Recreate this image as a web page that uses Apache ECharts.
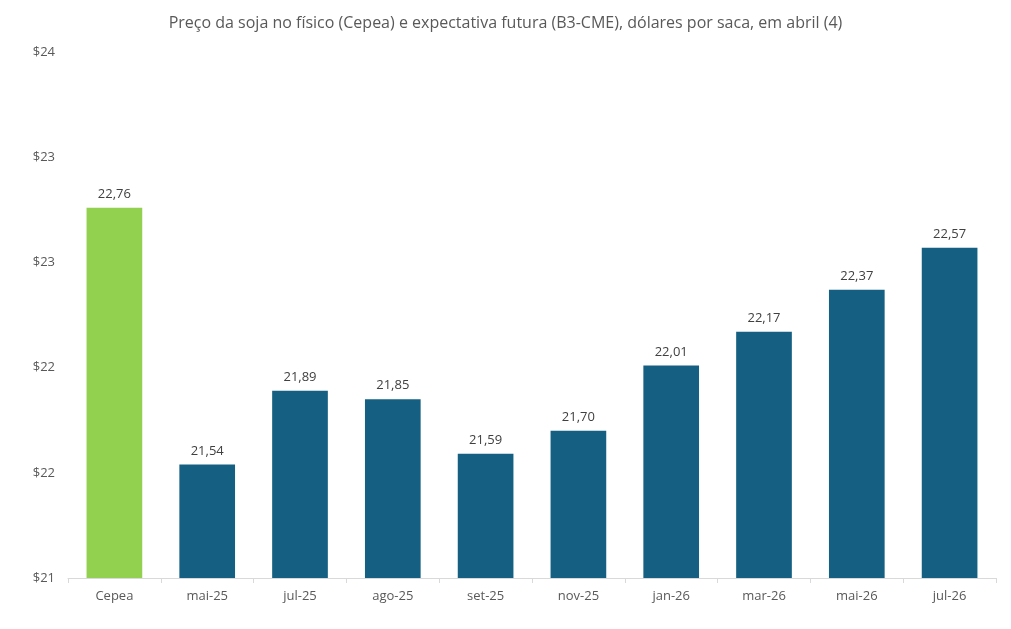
<!DOCTYPE html>
<html><head><meta charset="utf-8">
<script src="https://cdn.jsdelivr.net/npm/echarts@6/dist/echarts.min.js"></script>
<style>html,body{margin:0;padding:0;background:#fff}#c{width:1011px;height:629px}</style>
</head><body><div id="c"></div>
<script>
const categories = ['Cepea','mai-25','jul-25','ago-25','set-25','nov-25','jan-26','mar-26','mai-26','jul-26'];
const prices = [22.76, 21.54, 21.89, 21.85, 21.59, 21.70, 22.01, 22.17, 22.37, 22.57];
const barColors = ['#92D050','#156082','#156082','#156082','#156082','#156082','#156082','#156082','#156082','#156082'];
const titleText = 'Preço da soja no físico (Cepea) e expectativa futura (B3-CME), dólares por saca, em abril (4)';
const yMin = 21, yMax = 23.5, yStep = 0.5;

const chart = echarts.init(document.getElementById('c'), null, {renderer:'canvas'});
chart.setOption({
  animation:false,
  backgroundColor:'#fff',
  title:{text:titleText,left:'center',top:10,textStyle:{fontFamily:'Open Sans',fontWeight:'normal',fontSize:16,color:'#595959'}},
  grid:{left:68,right:15,top:52,bottom:51,containLabel:false},
  xAxis:{type:'category',data:categories,
    axisLine:{lineStyle:{color:'#d9d9d9',width:1}},
    axisTick:{show:true,alignWithLabel:false,length:5,lineStyle:{color:'#d9d9d9'}},
    axisLabel:{color:'#595959',fontSize:13,fontFamily:'Open Sans',margin:12}},
  yAxis:{type:'value',min:yMin,max:yMax,interval:yStep,
    splitLine:{show:false},axisLine:{show:false},axisTick:{show:false},
    axisLabel:{color:'#595959',fontSize:13,fontFamily:'Open Sans',margin:13,formatter:v=>'$'+Math.round(v)}},
  series:[{type:'bar',barCategoryGap:'40%',
    data:prices.map((v,i)=>({value:v,itemStyle:{color:barColors[i]}})),
    label:{show:true,position:'top',distance:7,color:'#404040',fontSize:13,fontFamily:'Open Sans',
      formatter:p=>p.value.toFixed(2).replace('.',',')}}]
});
</script></body></html>
